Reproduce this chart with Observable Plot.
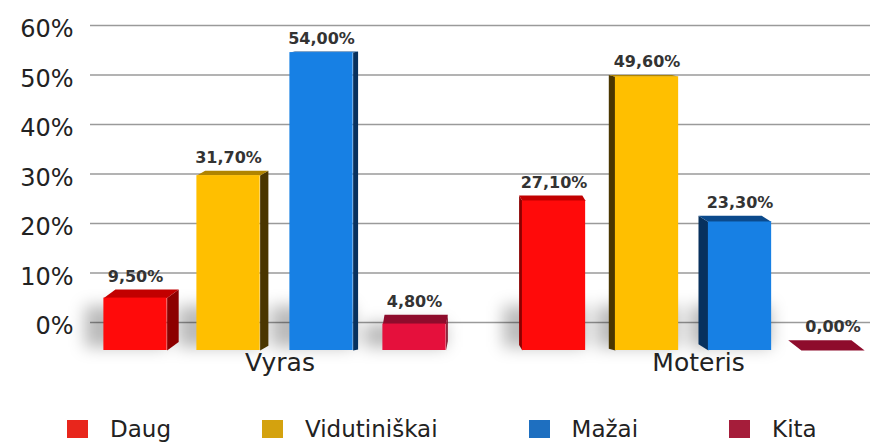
<!DOCTYPE html>
<html><head><meta charset="utf-8">
<script src="https://cdn.jsdelivr.net/npm/d3@7"></script>
<script src="https://cdn.jsdelivr.net/npm/@observablehq/plot@0.6"></script>
<style>
html,body{margin:0;padding:0;background:#fff;overflow:hidden;}
#chart svg{display:block;}
#legend{padding:12px 0 0 67px;width:803px;}
.lg-swatches-wrap{flex-wrap:nowrap !important;}
.lg-swatch{margin-right:91px !important;white-space:nowrap;}
.lg-swatch:last-child{margin-right:0 !important;}
.lg-swatch > svg{margin-right:22px !important;}
</style></head>
<body><div id="chart"></div><div id="legend"></div>
<script>
// ---- data ----
const groups = ["Vyras", "Moteris"];
const series = ["Daug", "Vidutiniškai", "Mažai", "Kita"];
const vyras = [9.5, 31.7, 54.0, 4.8];
const moteris = [27.1, 49.6, 23.3, 0.0];
const yTicks = [0, 10, 20, 30, 40, 50, 60];

// ---- colours ----
const frontColors = ["#ff0a0a", "#ffbf00", "#1780e4", "#e5103c"];
const topColors = ["#c20000", "#b08400", "#0b4a8c", "#8e0c2c"];
const sideColors = ["#8c0000", "#4a3600", "#07315e", "#7a0a22"];
const legendColors = ["#e8261c", "#d4a20e", "#1e6fc0", "#a51d3a"];

// ---- layout constants (3D perspective) ----
const GROUP_STEP = 4.5, BAR_HALF = 0.34;
const VP = 3.5, SIDE_K = 0.0355, TOP_K = 0.0308;
const GRID_OFFSET = 5.0755, GRID_SCALE = 0.8973; // back wall projection
const back = g => GRID_OFFSET + GRID_SCALE * g;

const bars = groups.flatMap((g, gi) => (gi === 0 ? vyras : moteris).map((v, si) => {
  const c = gi * GROUP_STEP + si;
  return {id: g + si, group: g, series: series[si], si, value: v, c,
    x1: c - BAR_HALF, x2: c + BAR_HALF,
    s: (VP - c) * SIDE_K, t: (60 - v) * TOP_K};
}));

const faces = bars.flatMap(b => {
  const {x1, x2, value: v, s, t} = b;
  const ex = s >= 0 ? x2 : x1;
  const side = [[ex, 0], [ex, v], [ex + s, v + t], [ex + s, t]];
  const top = [[x1, v], [x2, v], [x2 + s, v + t], [x1 + s, v + t]];
  return [
    ...side.map(([x, y]) => ({id: b.id + "-side", x, y, fill: sideColors[b.si]})),
    ...top.map(([x, y]) => ({id: b.id + "-top", x, y, fill: topColors[b.si]}))
  ];
});

const chart = Plot.plot({
  width: 870, height: 400,
  marginLeft: 90, marginRight: 0, marginTop: 19, marginBottom: 50,
  x: {type: "linear", domain: [-0.484, 7.903], axis: null},
  y: {domain: [0, 60], axis: null},
  color: {type: "identity"},
  style: {fontFamily: "DejaVu Sans", background: "white", overflow: "visible"},
  marks: [
    Plot.ruleY(yTicks, {y: back, stroke: "#9a9a9a", strokeWidth: 1.5}),
    Plot.text(yTicks, {y: back, text: g => g + "%", frameAnchor: "left", textAnchor: "end",
      dx: -17, dy: 4, fontSize: 24, fill: "#222"}),
    // soft floor shadow behind each bar
    Plot.rect(bars.filter(d => d.value > 0), {x1: d => d.x1 - 0.2, x2: d => d.x2, y1: 0.5,
      y2: d => Math.min(d.value, 8), fill: "#000", fillOpacity: 0.27}),
    Plot.line(faces, {x: "x", y: "y", z: "id", fill: "fill", stroke: "none"}),
    Plot.rect(bars, {x1: "x1", x2: "x2", y1: 0, y2: "value", fill: (d) => frontColors[d.si]}),
    Plot.text(bars, {x: "c", y: d => d.value + d.t, dy: -13,
      text: d => d.value.toFixed(2).replace(".", ",") + "%",
      fontWeight: "bold", fontSize: 16, fill: "#333"}),
    Plot.text(groups, {x: (g, i) => i * GROUP_STEP + 1.5, frameAnchor: "bottom", dy: 20, dx: 5,
      text: d => d, fontSize: 25, fill: "#222"})
  ]
});
// blur the shadow layer
const svg = d3.select(chart);
svg.append("defs").append("filter").attr("id", "soft").attr("x", "-50%").attr("y", "-50%")
  .attr("width", "200%").attr("height", "200%")
  .append("feGaussianBlur").attr("stdDeviation", 8);
svg.selectAll("g").filter(function() { return this.getAttribute("fill-opacity") === "0.27"; })
  .attr("filter", "url(#soft)");
document.getElementById("chart").append(chart);

const legend = Plot.legend({
  color: {type: "ordinal", domain: series, range: legendColors},
  swatchWidth: 21, swatchHeight: 18, className: "lg",
  style: {fontFamily: "DejaVu Sans", fontSize: "23px", color: "#222", marginBottom: "0"}
});
document.getElementById("legend").append(legend);
</script></body></html>
